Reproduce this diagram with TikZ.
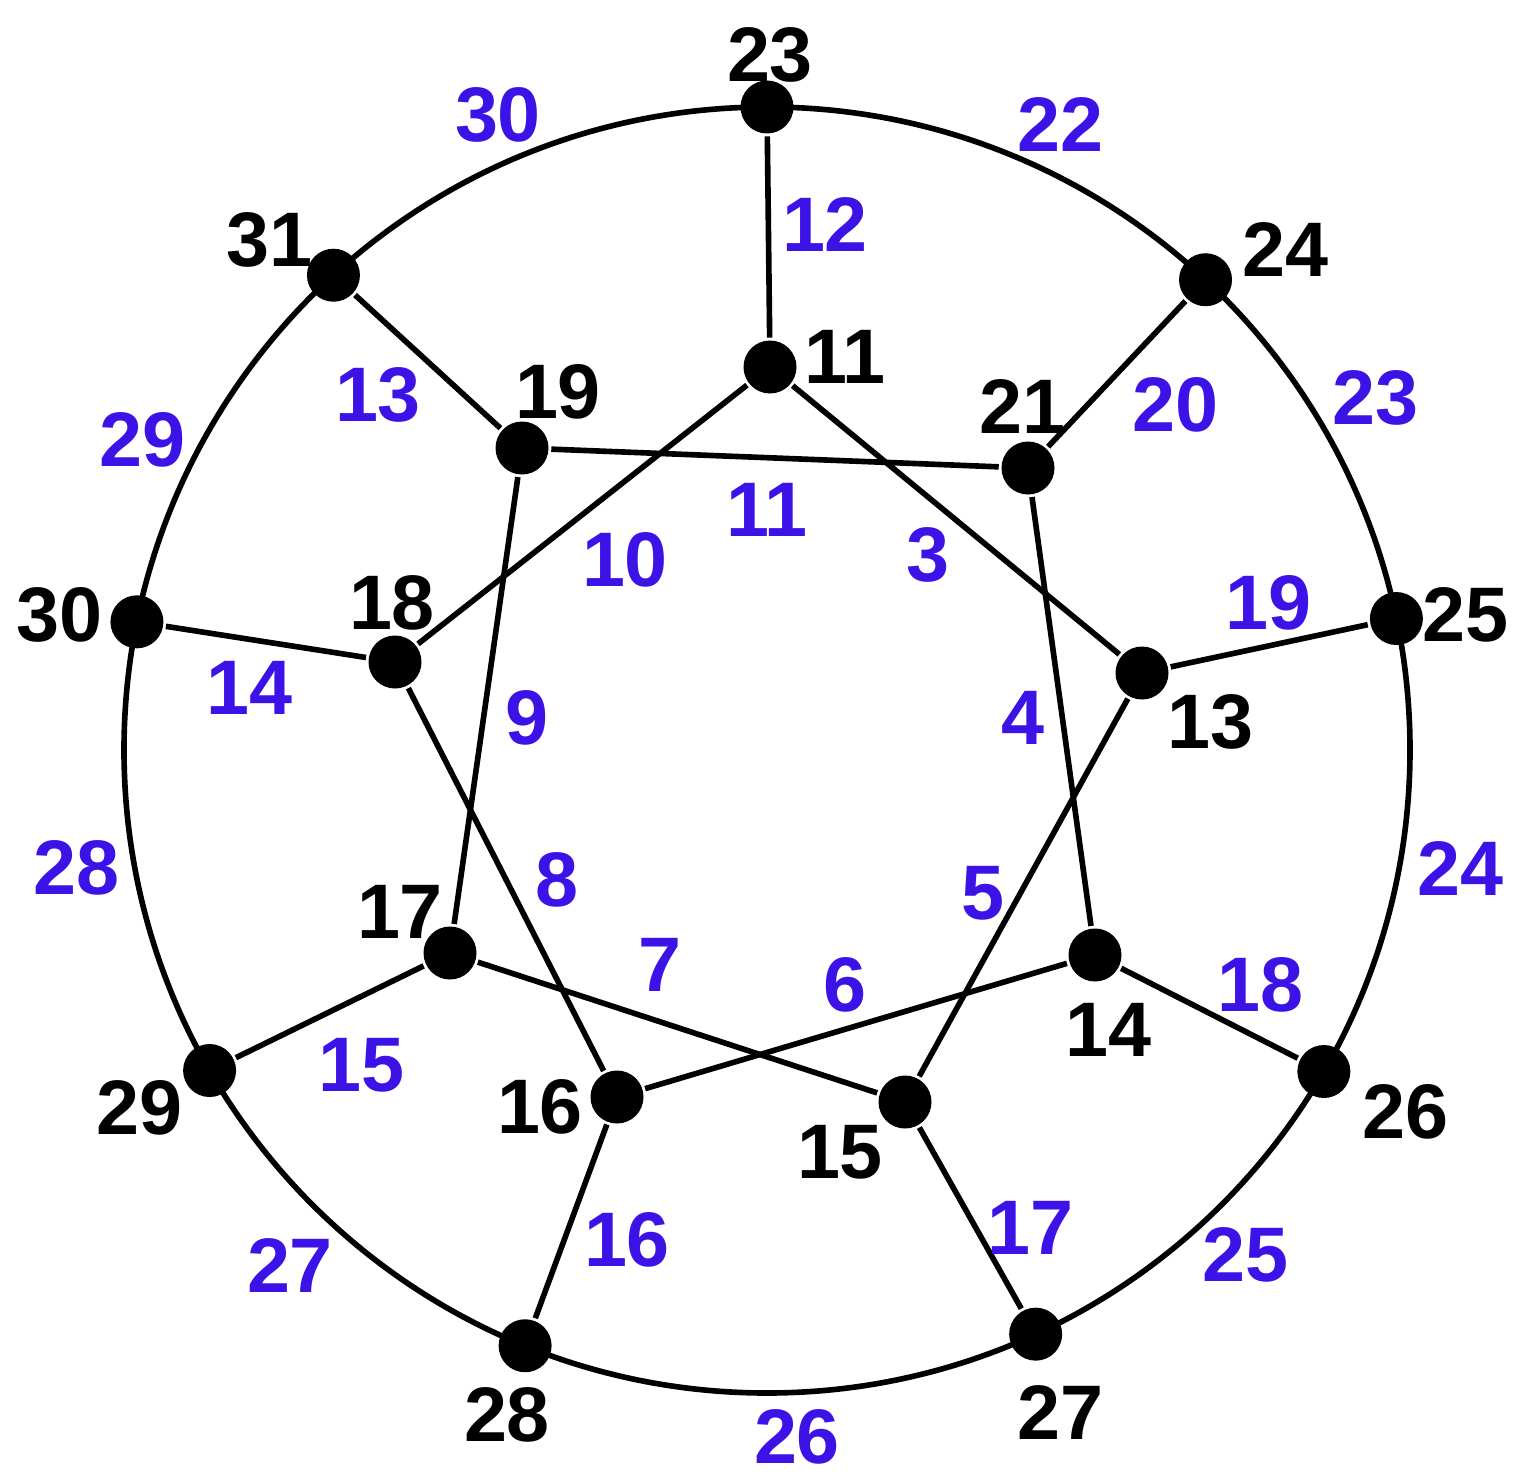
\documentclass[tikz,border=0pt]{standalone}
\usepackage{fontspec}
\setmainfont{Liberation Sans}
\usepackage{xcolor}
\usetikzlibrary{calc}
\definecolor{edgeblue}{RGB}{60,18,230}

\begin{document}
\begin{tikzpicture}[-,line width=1.6pt,
    main node/.style={circle,fill=black,inner sep=0pt,minimum size=0.53cm},
    vlabel/.style={font=\fontsize{22}{26}\selectfont\bfseries,text=black},
    elabel/.style={font=\fontsize{22}{26}\selectfont\bfseries,text=edgeblue}]

            \useasboundingbox (0,0) rectangle (15.3,-14.84);
            \coordinate (c) at (7.67,-7.50);
            \draw (c) circle (6.43);

            % outer ring
            \node[main node] (23) at ($(c)+(90:6.43)$) {};
            \node[main node] (24) at ($(c)+(47:6.43)$) {};
            \node[main node] (25) at ($(c)+(11.8:6.43)$) {};
            \node[main node] (26) at ($(c)+(-30:6.43)$) {};
            \node[main node] (27) at ($(c)+(-65.3:6.43)$) {};
            \node[main node] (28) at ($(c)+(-112.1:6.43)$) {};
            \node[main node] (29) at ($(c)+(-150.1:6.43)$) {};
            \node[main node] (30) at ($(c)+(168.5:6.43)$) {};
            \node[main node] (31) at ($(c)+(132.4:6.43)$) {};

            % inner nodes
            \node[main node] (11) at (7.70,-3.67) {};
            \node[main node] (13) at (11.42,-6.73) {};
            \node[main node] (14) at (10.95,-9.55) {};
            \node[main node] (15) at (9.05,-11.02) {};
            \node[main node] (16) at (6.17,-10.97) {};
            \node[main node] (17) at (4.50,-9.53) {};
            \node[main node] (18) at (3.95,-6.62) {};
            \node[main node] (19) at (5.22,-4.48) {};
            \node[main node] (21) at (10.28,-4.68) {};

            \draw (23) to (11);
            \draw (11) to (18);
            \draw (11) to (13);
            \draw (31) to (19);
            \draw (19) to (21);
            \draw (19) to (17);
            \draw (21) to (24);
            \draw (21) to (14);
            \draw (30) to (18);
            \draw (18) to (16);
            \draw (25) to (13);
            \draw (13) to (15);
            \draw (14) to (26);
            \draw (14) to (16);
            \draw (17) to (15);
            \draw (17) to (29);
            \draw (16) to (28);
            \draw (15) to (27);

            % vertex numbers
            \node[vlabel] (v23) at (7.70,-0.55) {23};
            \node[vlabel] (v24) at (12.85,-2.50) {24};
            \node[vlabel] (v25) at (14.65,-6.15) {25};
            \node[vlabel] (v26) at (14.05,-11.12) {26};
            \node[vlabel] (v27) at (10.60,-14.12) {27};
            \node[vlabel] (v28) at (5.07,-14.15) {28};
            \node[vlabel] (v29) at (1.40,-11.08) {29};
            \node[vlabel] (v30) at (0.60,-6.15) {30};
            \node[vlabel] (v31) at (2.70,-2.40) {31};
            \node[vlabel] (v11) at (8.45,-3.57) {11};
            \node[vlabel] (v13) at (12.10,-7.22) {13};
            \node[vlabel] (v14) at (11.08,-10.30) {14};
            \node[vlabel] (v15) at (8.40,-11.52) {15};
            \node[vlabel] (v16) at (5.40,-11.07) {16};
            \node[vlabel] (v17) at (4.00,-9.12) {17};
            \node[vlabel] (v18) at (3.92,-6.03) {18};
            \node[vlabel] (v19) at (5.58,-3.92) {19};
            \node[vlabel] (v21) at (10.22,-4.07) {21};

            % edge numbers
            \node[elabel] (e30) at (4.98,-1.15) {30};
            \node[elabel] (e22) at (10.60,-1.25) {22};
            \node[elabel] (e12) at (8.25,-2.25) {12};
            \node[elabel] (e23) at (13.75,-3.98) {23};
            \node[elabel] (e20) at (11.75,-4.05) {20};
            \node[elabel] (e13) at (3.78,-3.95) {13};
            \node[elabel] (e29) at (1.43,-4.40) {29};
            \node[elabel] (e11) at (7.67,-5.10) {11};
            \node[elabel] (e10) at (6.25,-5.60) {10};
            \node[elabel] (e3) at (9.28,-5.55) {3};
            \node[elabel] (e19) at (12.68,-6.03) {19};
            \node[elabel] (e14) at (2.50,-6.88) {14};
            \node[elabel] (e9) at (5.27,-7.18) {9};
            \node[elabel] (e4) at (10.23,-7.18) {4};
            \node[elabel] (e28) at (0.77,-8.68) {28};
            \node[elabel] (e24) at (14.60,-8.68) {24};
            \node[elabel] (e8) at (5.57,-8.80) {8};
            \node[elabel] (e5) at (9.83,-8.93) {5};
            \node[elabel] (e7) at (6.60,-9.65) {7};
            \node[elabel] (e6) at (8.45,-9.85) {6};
            \node[elabel] (e18) at (12.60,-9.85) {18};
            \node[elabel] (e15) at (3.62,-10.65) {15};
            \node[elabel] (e16) at (6.27,-12.40) {16};
            \node[elabel] (e17) at (10.30,-12.28) {17};
            \node[elabel] (e25) at (12.45,-12.55) {25};
            \node[elabel] (e27) at (2.90,-12.65) {27};
            \node[elabel] (e26) at (7.97,-14.37) {26};

            ;
        \end{tikzpicture}
\end{document}
